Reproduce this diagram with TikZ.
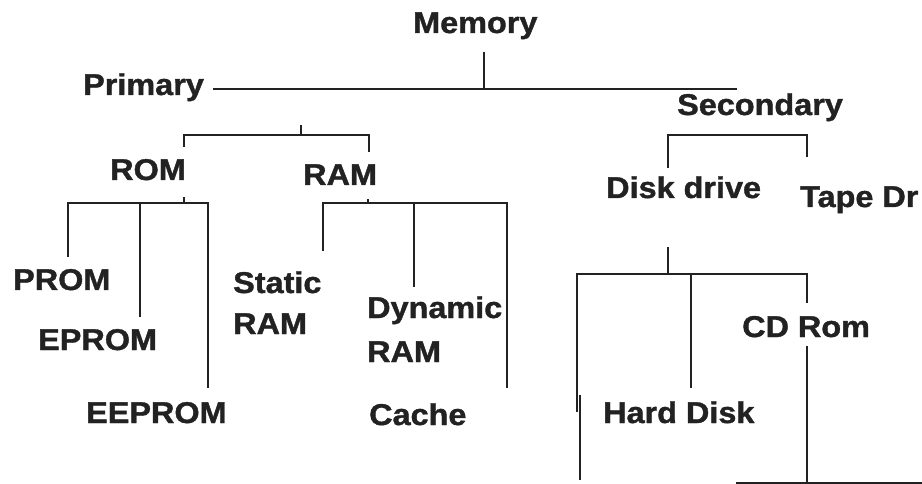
\documentclass[tikz,border=0pt]{standalone}
\usepackage{fontspec}
\setmainfont{Liberation Sans}[BoldFeatures={FakeBold=1.2}]
\usepackage{graphicx}
\definecolor{ink}{HTML}{222222}
\newcommand{\sx}[1]{\scalebox{1.08}[1]{#1}}
\begin{document}
\begin{tikzpicture}[x=1pt,y=-1pt,
  lbl/.style={anchor=base west, inner sep=0pt, text=ink, font=\bfseries\fontsize{30}{41}\selectfont, align=left},
  conn/.style={draw=ink, line width=1.6pt}]
\useasboundingbox (0,0) rectangle (922,484);
\clip (0,0) rectangle (922,484);
\fill[white] (0,0) rectangle (922,484);
% labels
\node[lbl] (memory) at (413,33) {\sx{Memory}};
\node[lbl] (primary) at (83,95) {\sx{Primary}};
\node[lbl] (rom) at (110,180) {\sx{ROM}};
\node[lbl] (ram) at (303,185) {\sx{RAM}};
\node[lbl] (prom) at (13,290) {\sx{PROM}};
\node[lbl] (eprom) at (38,350) {\sx{EPROM}};
\node[lbl] (eeprom) at (86,423) {\sx{EEPROM}};
\node[lbl] (sram) at (233,334) {\sx{Static}\\\sx{RAM}};
\node[lbl] (dram) at (367,362) {\sx{Dynamic}\\[3pt]\sx{RAM}};
\node[lbl] (cache) at (369,425) {\sx{Cache}};
\node[lbl] (secondary) at (677,115) {\sx{Secondary}};
\node[lbl] (disk) at (606,198) {\sx{Disk drive}};
\node[lbl] (tape) at (800,207) {\sx{Tape Dr}};
\node[lbl] (cdrom) at (742,337) {\sx{CD Rom}};
\node[lbl] (hdd) at (603,423) {\sx{Hard Disk}};
% junction coordinates
\coordinate (m0) at (484,52); \coordinate (m1) at (484,89);
\coordinate (p0) at (213,89); \coordinate (p1) at (737,89);
\coordinate (r0) at (301,125); \coordinate (r1) at (301,135);
\coordinate (rL) at (184,135); \coordinate (rL2) at (184,147);
\coordinate (rR) at (369,135); \coordinate (rR2) at (369,152);
\coordinate (o0) at (184,197); \coordinate (o1) at (184,203);
\coordinate (oA) at (68,203); \coordinate (oA2) at (68,257);
\coordinate (oB) at (140,203); \coordinate (oB2) at (140,317);
\coordinate (oC) at (208,203); \coordinate (oC2) at (208,388);
\coordinate (a0) at (368,199); \coordinate (a1) at (368,203);
\coordinate (aA) at (323,203); \coordinate (aA2) at (323,251);
\coordinate (aB) at (414,203); \coordinate (aB2) at (414,287);
\coordinate (aC) at (507,203); \coordinate (aC2) at (507,388);
\coordinate (sL) at (668,135); \coordinate (sL2) at (668,168);
\coordinate (sR) at (807,135); \coordinate (sR2) at (807,157);
\coordinate (d0) at (668,247); \coordinate (d1) at (668,274);
\coordinate (dA) at (577,274); \coordinate (dA2) at (577,412);
\coordinate (dA3) at (580,395); \coordinate (dA4) at (580,480);
\coordinate (dB) at (691,274); \coordinate (dB2) at (691,388);
\coordinate (dC) at (807,274); \coordinate (dC2) at (807,303);
\coordinate (dC3) at (807,346); \coordinate (dC4) at (807,483);
\coordinate (e0) at (736,483); \coordinate (e1) at (922,483);
% connectors
\draw[conn] (m0) -- (m1);
\draw[conn] (p0) -- (p1);
\draw[conn] (r0) -- (r1);
\draw[conn] (rL2) -- (rL) -- (rR) -- (rR2);
\draw[conn] (o0) -- (o1);
\draw[conn] (oA2) -- (oA) -- (oC) -- (oC2);
\draw[conn] (oB) -- (oB2);
\draw[conn] (a0) -- (a1);
\draw[conn] (aA2) -- (aA) -- (aC) -- (aC2);
\draw[conn] (aB) -- (aB2);
\draw[conn] (sL2) -- (sL) -- (sR) -- (sR2);
\draw[conn] (d0) -- (d1);
\draw[conn] (dA2) -- (dA) -- (dC) -- (dC2);
\draw[conn] (dA3) -- (dA4);
\draw[conn] (dB) -- (dB2);
\draw[conn] (dC3) -- (dC4);
\draw[conn] (e0) -- (e1);
\end{tikzpicture}
\end{document}
